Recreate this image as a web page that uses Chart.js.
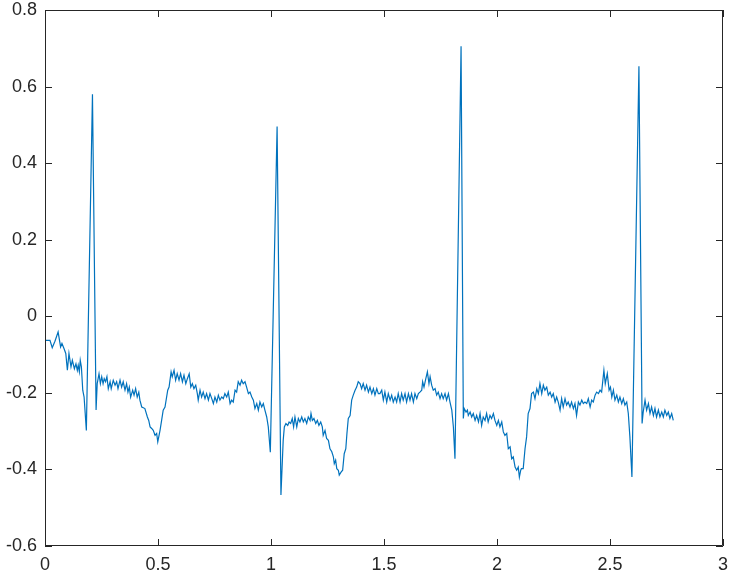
<!DOCTYPE html>
<html>
<head>
<meta charset="utf-8">
<script src="https://cdn.jsdelivr.net/npm/chart.js@4.4.1/dist/chart.umd.min.js"></script>
<style>
  html, body { margin: 0; padding: 0; background: #ffffff; }
  #wrap { width: 731px; height: 577px; }
</style>
</head>
<body>
<div id="wrap"><canvas id="c" width="731" height="577"></canvas></div>
<script>
// ---- data ----
const timeSec = [
  0.000,0.022,0.032,0.044,0.058,0.069,0.075,0.084,0.092,0.099,0.106,0.115,0.121,0.130,0.137,0.143,0.147,0.152,0.156,0.161,0.167,0.173,0.183,0.210,0.226,
  0.231,0.239,0.245,0.251,0.257,0.262,0.268,0.274,0.280,0.288,0.293,0.302,0.310,0.317,0.323,0.332,0.339,0.346,0.354,0.361,0.367,0.373,0.379,0.388,0.394,0.401,0.408,0.415,0.420,0.428,0.435,0.442,0.453,0.459,0.465,0.472,0.479,0.487,0.494,0.499,
  0.509,0.516,0.523,0.531,0.543,0.549,0.558,0.563,0.571,0.578,0.585,0.593,0.600,0.608,0.615,0.623,0.630,0.638,0.645,0.652,0.659,0.667,0.674,0.678,0.686,0.693,0.700,0.708,0.715,0.723,0.730,0.738,0.745,0.752,0.760,0.767,0.774,0.782,0.789,0.796,0.804,0.811,0.819,0.826,0.833,0.841,0.848,0.855,0.863,0.870,0.877,0.885,0.892,0.900,0.907,0.915,0.922,0.929,0.937,0.944,0.951,0.959,0.966,0.973,0.981,0.988,0.997,1.027,1.044,
  1.054,1.059,1.066,1.074,1.080,1.087,1.094,1.100,1.106,1.114,1.121,1.128,1.136,1.143,1.150,1.158,1.165,1.173,1.177,1.183,1.190,1.198,1.205,1.212,1.220,1.227,1.231,1.239,1.246,1.254,1.261,1.269,1.276,1.280,1.286,1.291,1.298,1.302,1.310,1.317,1.324,1.331,1.336,1.342,1.350,1.357,1.364,1.372,1.379,1.386,1.394,1.401,1.408,1.416,1.423,1.431,1.438,1.446,1.453,1.460,1.468,1.475,
  1.482,1.490,1.497,1.504,1.512,1.519,1.527,1.534,1.541,1.549,1.556,1.563,1.571,1.578,1.585,1.593,1.600,1.608,1.615,1.622,1.630,1.637,1.645,1.652,1.659,1.667,1.671,1.677,1.685,1.692,1.699,1.704,1.711,1.718,1.726,1.733,1.740,1.748,1.755,1.762,1.770,1.777,1.785,1.792,1.800,1.807,1.814,1.841,1.851,
  1.855,1.863,1.869,1.873,1.881,1.888,1.895,1.903,1.910,1.918,1.925,1.932,1.939,1.947,1.954,1.961,1.969,1.976,1.984,1.991,1.999,2.006,2.013,2.021,2.028,2.035,2.043,2.050,2.058,2.065,2.072,2.080,2.087,2.094,2.099,2.105,2.108,2.116,2.124,2.131,2.138,2.146,
  2.153,2.161,2.168,2.176,2.183,2.190,2.198,2.205,2.212,2.220,2.227,2.235,2.242,2.249,2.257,2.264,2.271,2.279,2.286,2.293,2.301,2.308,2.315,2.323,2.330,2.338,2.345,2.352,2.360,2.367,2.375,2.382,2.389,2.397,2.404,2.412,2.419,2.426,2.434,2.441,2.449,
  2.456,2.463,2.473,2.479,2.488,2.496,2.502,2.508,2.515,2.522,2.530,2.537,2.544,2.552,2.559,2.566,2.574,2.581,2.588,2.597,2.628,2.642,
  2.647,2.655,2.662,2.670,2.677,2.684,2.692,2.699,2.706,2.714,2.721,2.729,2.736,2.743,2.751,2.758,2.765,2.773,2.780
];
const ecgValue = [
  -0.063,-0.063,-0.082,-0.065,-0.041,-0.080,-0.071,-0.084,-0.097,-0.141,-0.097,-0.132,-0.115,-0.137,-0.124,-0.141,-0.128,-0.145,-0.115,-0.132,-0.193,-0.211,-0.298,0.580,-0.245,
  -0.176,-0.150,-0.176,-0.158,-0.176,-0.163,-0.171,-0.158,-0.189,-0.171,-0.189,-0.167,-0.180,-0.171,-0.189,-0.167,-0.185,-0.171,-0.193,-0.176,-0.198,-0.185,-0.211,-0.193,-0.206,-0.189,-0.211,-0.198,-0.219,-0.237,-0.239,-0.241,-0.263,-0.272,-0.289,-0.293,-0.298,-0.311,-0.306,-0.328,
  -0.298,-0.272,-0.245,-0.237,-0.193,-0.185,-0.145,-0.158,-0.141,-0.167,-0.150,-0.167,-0.150,-0.171,-0.154,-0.176,-0.163,-0.150,-0.185,-0.176,-0.189,-0.180,-0.202,-0.219,-0.193,-0.211,-0.198,-0.215,-0.202,-0.219,-0.202,-0.215,-0.228,-0.211,-0.224,-0.206,-0.219,-0.211,-0.215,-0.202,-0.211,-0.198,-0.228,-0.219,-0.224,-0.193,-0.198,-0.171,-0.180,-0.167,-0.176,-0.171,-0.185,-0.202,-0.198,-0.211,-0.219,-0.241,-0.228,-0.245,-0.224,-0.237,-0.228,-0.245,-0.263,-0.289,-0.355,0.496,-0.467,
  -0.324,-0.289,-0.280,-0.285,-0.276,-0.280,-0.267,-0.289,-0.263,-0.289,-0.267,-0.276,-0.263,-0.276,-0.267,-0.280,-0.263,-0.272,-0.254,-0.272,-0.267,-0.280,-0.272,-0.285,-0.276,-0.289,-0.311,-0.298,-0.319,-0.324,-0.346,-0.354,-0.367,-0.385,-0.376,-0.398,-0.402,-0.415,-0.407,-0.402,-0.359,-0.346,-0.306,-0.267,-0.259,-0.219,-0.206,-0.193,-0.185,-0.171,-0.176,-0.189,-0.176,-0.193,-0.180,-0.198,-0.185,-0.202,-0.189,-0.206,-0.189,-0.202,
  -0.202,-0.193,-0.219,-0.198,-0.224,-0.202,-0.219,-0.206,-0.224,-0.211,-0.224,-0.202,-0.224,-0.202,-0.219,-0.202,-0.224,-0.202,-0.219,-0.202,-0.224,-0.202,-0.215,-0.202,-0.198,-0.193,-0.171,-0.185,-0.163,-0.145,-0.176,-0.158,-0.180,-0.193,-0.189,-0.206,-0.198,-0.215,-0.202,-0.215,-0.202,-0.219,-0.202,-0.224,-0.245,-0.289,-0.372,0.705,-0.267,
  -0.241,-0.250,-0.245,-0.259,-0.250,-0.263,-0.254,-0.272,-0.259,-0.276,-0.254,-0.285,-0.263,-0.272,-0.254,-0.276,-0.259,-0.267,-0.254,-0.272,-0.285,-0.272,-0.289,-0.276,-0.302,-0.311,-0.306,-0.346,-0.341,-0.372,-0.367,-0.394,-0.402,-0.394,-0.420,-0.402,-0.398,-0.398,-0.346,-0.315,-0.254,-0.241,
  -0.202,-0.198,-0.215,-0.189,-0.202,-0.176,-0.202,-0.180,-0.193,-0.185,-0.206,-0.198,-0.211,-0.202,-0.224,-0.211,-0.224,-0.245,-0.215,-0.237,-0.215,-0.232,-0.224,-0.237,-0.224,-0.241,-0.228,-0.259,-0.224,-0.232,-0.219,-0.228,-0.224,-0.228,-0.215,-0.237,-0.219,-0.224,-0.206,-0.198,-0.202,
  -0.193,-0.198,-0.141,-0.176,-0.150,-0.193,-0.185,-0.211,-0.193,-0.219,-0.206,-0.224,-0.211,-0.228,-0.215,-0.232,-0.224,-0.254,-0.315,-0.420,0.653,-0.280,
  -0.250,-0.219,-0.245,-0.228,-0.254,-0.237,-0.259,-0.241,-0.263,-0.245,-0.263,-0.250,-0.263,-0.245,-0.259,-0.250,-0.267,-0.254,-0.272
];
const xTickValues = [0, 0.5, 1, 1.5, 2, 2.5, 3];
const xTickLabels = ['0', '0.5', '1', '1.5', '2', '2.5', '3'];
const yTickValues = [-0.6, -0.4, -0.2, 0, 0.2, 0.4, 0.6, 0.8];
const yTickLabels = ['-0.6', '-0.4', '-0.2', '0', '0.2', '0.4', '0.6', '0.8'];

// ---- chart ----
const points = timeSec.map((t, i) => ({ x: t, y: ecgValue[i] }));
const axisColor = '#262626';
const tickFont = { family: "'Liberation Sans', Arial, Helvetica, sans-serif", size: 18 };

function labelFor(values, labels, v) {
  const i = values.findIndex(a => Math.abs(a - v) < 1e-9);
  return i >= 0 ? labels[i] : '';
}

const boxTicks = {
  id: 'boxTicks',
  afterDraw(chart) {
    const { ctx, chartArea: a, scales } = chart;
    const len = 7;
    ctx.save();
    ctx.strokeStyle = axisColor;
    ctx.lineWidth = 1;
    ctx.beginPath();
    ctx.rect(Math.round(a.left) + 0.5, Math.round(a.top) + 0.5, Math.round(a.right - a.left) - 1, Math.round(a.bottom - a.top) - 1);
    xTickValues.forEach(v => {
      const px = Math.round(scales.x.getPixelForValue(v)) + 0.5;
      ctx.moveTo(px, a.bottom); ctx.lineTo(px, a.bottom - len);
      ctx.moveTo(px, a.top); ctx.lineTo(px, a.top + len);
    });
    yTickValues.forEach(v => {
      const py = Math.round(scales.y.getPixelForValue(v)) + 0.5;
      ctx.moveTo(a.left, py); ctx.lineTo(a.left + len, py);
      ctx.moveTo(a.right, py); ctx.lineTo(a.right - len, py);
    });
    ctx.stroke();
    ctx.restore();
  }
};

new Chart(document.getElementById('c'), {
  type: 'scatter',
  data: {
    datasets: [{
      data: points,
      showLine: true,
      borderColor: '#0072BD',
      borderWidth: 1.2,
      pointRadius: 0,
      pointHoverRadius: 0,
      tension: 0,
      fill: false
    }]
  },
  options: {
    responsive: false,
    animation: false,
    devicePixelRatio: 1,
    events: [],
    layout: { padding: { top: 10, right: 8, left: 0, bottom: 0 } },
    plugins: { legend: { display: false }, tooltip: { enabled: false } },
    scales: {
      x: {
        type: 'linear',
        min: 0, max: 3,
        afterBuildTicks: s => { s.ticks = xTickValues.map(v => ({ value: v })); },
        afterFit: s => { s.height = 31; s.paddingLeft = 0; s.paddingRight = 0; s.paddingTop = 0; s.paddingBottom = 0; },
        grid: { display: false, drawTicks: false },
        border: { display: false },
        ticks: {
          color: axisColor, font: tickFont, padding: 8, maxRotation: 0, autoSkip: false,
          callback: v => labelFor(xTickValues, xTickLabels, v)
        }
      },
      y: {
        type: 'linear',
        min: -0.6, max: 0.8,
        afterBuildTicks: s => { s.ticks = yTickValues.map(v => ({ value: v })); },
        afterFit: s => { s.width = 45; s.paddingLeft = 0; s.paddingRight = 0; s.paddingTop = 0; s.paddingBottom = 0; },
        grid: { display: false, drawTicks: false },
        border: { display: false },
        ticks: {
          color: axisColor, font: tickFont, padding: 8, autoSkip: false,
          callback: v => labelFor(yTickValues, yTickLabels, v)
        }
      }
    }
  },
  plugins: [boxTicks]
});
</script>
</body>
</html>
